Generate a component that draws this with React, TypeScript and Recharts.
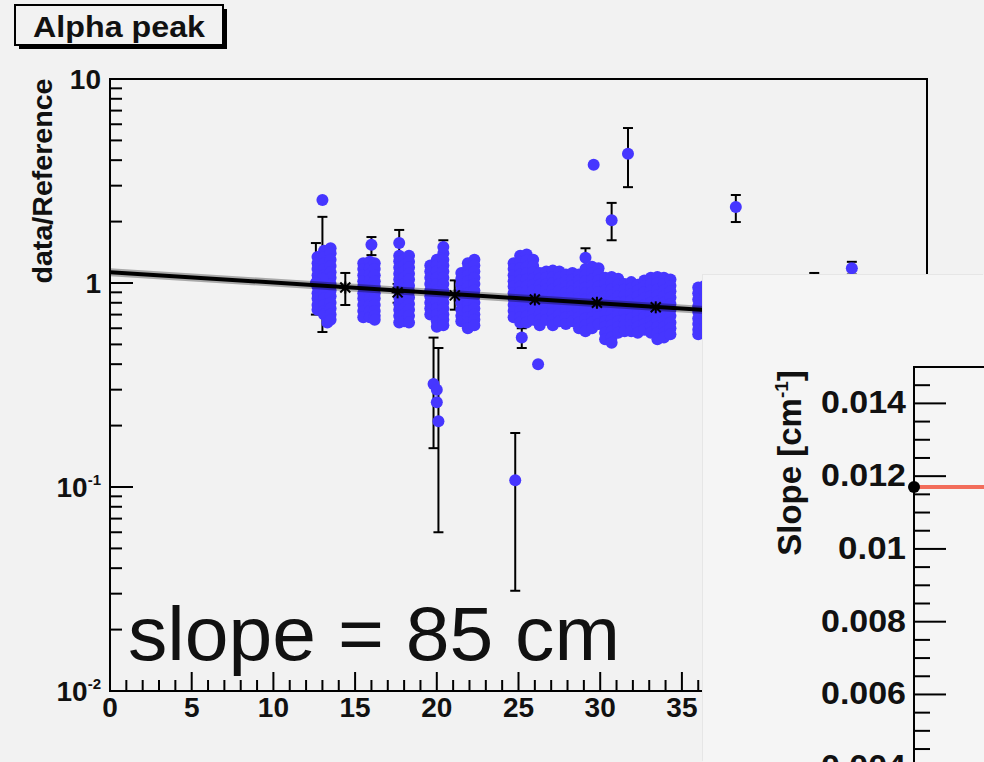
import React from "react";
import {
  ScatterChart,
  Scatter,
  XAxis,
  YAxis,
  ErrorBar,
  ReferenceArea,
  LineChart,
  Line,
} from "recharts";

// distance axis (cm)
const distTicks = [
  0, 1, 2, 3, 4, 5, 6, 7, 8, 9, 10, 11, 12, 13, 14, 15, 16, 17, 18, 19, 20, 21,
  22, 23, 24, 25, 26, 27, 28, 29, 30, 31, 32, 33, 34, 35, 36, 37, 38, 39, 40,
  41, 42, 43, 44, 45, 46, 47, 48, 49, 50,
];
// labels further right sit under the inset
const distLabels = [0, 5, 10, 15, 20, 25, 30, 35];

// log ratio axis
const ratioTicks = [
  0.01, 0.02, 0.03, 0.04, 0.05, 0.06, 0.07, 0.08, 0.09, 0.1, 0.2, 0.3, 0.4, 0.5,
  0.6, 0.7, 0.8, 0.9, 1, 2, 3, 4, 5, 6, 7, 8, 9, 10,
];
const ratioMajor = [0.01, 0.1, 1, 10];
const ratioMantissa = ["10", "10", "1", "10"];
const ratioExponent = ["-2", "-1", "", ""];

// blue measurements, one column of values per run position
const runColumns: [number, number[]][] = [
  [12.7, [1.34, 1.25, 1.17, 1.09, 1.02, 0.96, 0.89, 0.84, 0.78, 0.74]],
  [13.1, [1.44, 1.34, 1.25, 1.17, 1.09, 1.02, 0.96, 0.89, 0.84, 0.78, 0.73, 0.7]],
  [13.3, [0.64]],
  [13.5, [1.48, 1.4, 1.3, 1.21, 1.13, 1.06, 0.99, 0.92, 0.86, 0.8, 0.75, 0.7, 0.66]],
  [15.5, [1.25, 1.17, 1.09, 1.02, 0.96, 0.89, 0.84, 0.78, 0.73, 0.68]],
  [15.9, [1.27, 1.18, 1.1, 1.03, 0.96, 0.9, 0.84, 0.78, 0.73, 0.68]],
  [16.2, [1.25, 1.17, 1.09, 1.02, 0.96, 0.89, 0.84, 0.78, 0.73, 0.69, 0.66]],
  [17.7, [1.36, 1.28, 1.19, 1.11, 1.04, 0.97, 0.91, 0.85, 0.79, 0.74, 0.69, 0.64]],
  [18.0, [1.3, 1.22, 1.14, 1.06, 0.99, 0.92, 0.86, 0.8, 0.75, 0.7, 0.65]],
  [18.3, [1.36, 1.27, 1.19, 1.11, 1.04, 0.97, 0.91, 0.85, 0.79, 0.74, 0.69, 0.64]],
  [19.6, [1.22, 1.14, 1.06, 0.99, 0.92, 0.86, 0.8, 0.75, 0.7]],
  [20.0, [1.3, 1.22, 1.14, 1.06, 0.99, 0.92, 0.86, 0.8, 0.75, 0.7, 0.65, 0.61]],
  [20.4, [1.4, 1.3, 1.22, 1.14, 1.06, 0.99, 0.92, 0.86, 0.8, 0.75, 0.7, 0.66, 0.62]],
  [21.5, [1.12, 1.05, 0.98, 0.91, 0.85, 0.8, 0.74, 0.69, 0.65]],
  [21.9, [1.25, 1.17, 1.09, 1.02, 0.96, 0.89, 0.84, 0.78, 0.73, 0.68, 0.64, 0.6]],
  [22.3, [1.3, 1.22, 1.14, 1.06, 0.99, 0.92, 0.86, 0.8, 0.75, 0.7, 0.66, 0.62]],
  [24.7, [1.25, 1.17, 1.09, 1.02, 0.96, 0.89, 0.84, 0.78, 0.73, 0.68]],
  [25.1, [1.36, 1.27, 1.18, 1.1, 1.03, 0.96, 0.9, 0.84, 0.78, 0.73, 0.68, 0.64]],
  [25.5, [1.38, 1.29, 1.2, 1.12, 1.04, 0.97, 0.91, 0.85, 0.79, 0.74, 0.69, 0.64]],
  [25.9, [1.3, 1.21, 1.13, 1.05, 0.98, 0.92, 0.86, 0.8, 0.75, 0.7, 0.66]],
  [26.3, [1.12, 1.05, 0.98, 0.92, 0.86, 0.8, 0.75, 0.7, 0.66, 0.62]],
  [26.7, [1.14, 1.06, 0.99, 0.93, 0.87, 0.81, 0.76, 0.71, 0.66]],
  [27.1, [1.15, 1.07, 1.0, 0.93, 0.87, 0.81, 0.76, 0.71, 0.66, 0.62]],
  [27.5, [1.14, 1.06, 0.99, 0.92, 0.86, 0.8, 0.75, 0.7, 0.65]],
  [27.9, [1.1, 1.03, 0.96, 0.9, 0.84, 0.78, 0.73, 0.68, 0.63]],
  [28.3, [1.12, 1.04, 0.97, 0.91, 0.85, 0.79, 0.74, 0.69, 0.65]],
  [28.7, [1.1, 1.03, 0.96, 0.9, 0.84, 0.78, 0.73, 0.68, 0.64, 0.6]],
  [29.1, [1.17, 1.09, 1.02, 0.95, 0.89, 0.83, 0.77, 0.72, 0.67, 0.62, 0.58]],
  [29.5, [1.2, 1.12, 1.04, 0.97, 0.9, 0.84, 0.78, 0.73, 0.68, 0.64, 0.6]],
  [29.9, [1.18, 1.1, 1.03, 0.96, 0.9, 0.84, 0.78, 0.73, 0.68, 0.63]],
  [30.3, [1.06, 0.99, 0.92, 0.86, 0.8, 0.75, 0.7, 0.65, 0.61, 0.57, 0.53]],
  [30.7, [1.07, 1.0, 0.93, 0.87, 0.81, 0.76, 0.71, 0.66, 0.62, 0.58, 0.54, 0.51]],
  [31.1, [1.05, 0.98, 0.92, 0.86, 0.8, 0.75, 0.7, 0.65, 0.61, 0.57]],
  [31.5, [0.99, 0.93, 0.87, 0.81, 0.76, 0.71, 0.66, 0.62, 0.58]],
  [31.9, [1.01, 0.94, 0.88, 0.82, 0.77, 0.72, 0.67, 0.62, 0.58]],
  [32.3, [0.98, 0.92, 0.86, 0.8, 0.75, 0.7, 0.65, 0.61, 0.57]],
  [32.7, [1.03, 0.96, 0.9, 0.84, 0.78, 0.73, 0.68, 0.63, 0.59]],
  [33.1, [1.06, 0.99, 0.92, 0.86, 0.8, 0.75, 0.7, 0.65, 0.61, 0.57]],
  [33.5, [1.07, 1.0, 0.93, 0.87, 0.81, 0.76, 0.71, 0.66, 0.61, 0.57, 0.53]],
  [33.9, [1.06, 0.99, 0.92, 0.86, 0.8, 0.75, 0.7, 0.65, 0.61, 0.57, 0.54]],
  [34.3, [1.04, 0.97, 0.91, 0.85, 0.79, 0.74, 0.69, 0.64, 0.6, 0.56]],
  [36.0, [0.95, 0.89, 0.83, 0.77, 0.72, 0.67, 0.63, 0.59, 0.56]],
  [36.4, [0.97, 0.9, 0.84, 0.78, 0.73, 0.68, 0.64, 0.6, 0.56]],
];

// single blue points without visible bars
const loosePoints = [
  { x: 13.0, y: 2.55 },
  { x: 20.0, y: 0.3 },
  { x: 20.0, y: 0.26 },
  { x: 26.2, y: 0.4 },
  { x: 29.6, y: 3.8 },
];

// blue points whose error bars show
const barPoints = [
  { x: 13.0, y: 1.05, lo: 0.575, hi: 2.11 },
  { x: 12.6, y: 1.0, lo: 0.7, hi: 1.57 },
  { x: 16.0, y: 1.54, lo: 1.37, hi: 1.68 },
  { x: 17.7, y: 1.57, lo: 1.3, hi: 1.82 },
  { x: 20.4, y: 1.5, lo: 1.38, hi: 1.62 },
  { x: 19.8, y: 0.32, lo: 0.155, hi: 0.54 },
  { x: 20.1, y: 0.21, lo: 0.06, hi: 0.48 },
  { x: 24.8, y: 0.108, lo: 0.031, hi: 0.184 },
  { x: 25.2, y: 0.54, lo: 0.48, hi: 0.6 },
  { x: 29.1, y: 1.33, lo: 1.16, hi: 1.48 },
  { x: 30.7, y: 2.03, lo: 1.62, hi: 2.47 },
  { x: 31.7, y: 4.3, lo: 2.95, hi: 5.75 },
  { x: 38.3, y: 2.36, lo: 1.99, hi: 2.7 },
  { x: 43.1, y: 1.0, lo: 0.9, hi: 1.12 },
  { x: 45.4, y: 1.18, lo: 1.1, hi: 1.27 },
];

// group means
const meanDist = [14.4, 17.6, 21.1, 26.0, 29.8, 33.4];
const meanRatio = [0.95, 0.9, 0.87, 0.83, 0.8, 0.76];
const meanLo = [0.78, 0.8, 0.74, 0.71, 0.6, 0.67];
const meanHi = [1.12, 0.99, 1.03, 0.95, 1.03, 0.85];

// exponential fit, slope = 85 cm
const fitDist = [0, 50];
const fitRatio = [1.13, 0.628];

// inset: fitted slope
const slopeTicks = [
  0.002, 0.0025, 0.003, 0.0035, 0.004, 0.0045, 0.005, 0.0055, 0.006, 0.0065,
  0.007, 0.0075, 0.008, 0.0085, 0.009, 0.0095, 0.01, 0.0105, 0.011, 0.0115,
  0.012, 0.0125, 0.013, 0.0135, 0.014, 0.0145, 0.015,
];
const slopeMajor = [0.004, 0.006, 0.008, 0.01, 0.012, 0.014];
const slopeLabels = ["0.004", "0.006", "0.008", "0.01", "0.012", "0.014"];
const slopeRun = [0, 1];
const slopeValue = [0.0117, 0.0117];

const BLUE = "#4636ff";
const BG = "#f2f2f2";

const clusterData = runColumns.flatMap(([x, vals]) => vals.map((y) => ({ x, y })));
const barData = barPoints.map((p) => ({ x: p.x, y: p.y, err: [p.y - p.lo, p.hi - p.y] }));
const meanData = meanDist.map((x, i) => ({
  x,
  y: meanRatio[i],
  err: [meanRatio[i] - meanLo[i], meanHi[i] - meanRatio[i]],
}));
const fitData = fitDist.map((x, i) => ({ x, y: fitRatio[i] }));
const slopeData = slopeRun.map((run, i) => ({ run, slope: slopeValue[i] }));

const BlueDot = (p: any) => <circle cx={p.cx} cy={p.cy} r={6} fill={BLUE} />;
const NoDot = () => <g />;
const MeanMark = (p: any) => {
  const { cx, cy } = p;
  return (
    <g stroke="#000" strokeWidth={2}>
      <line x1={cx - 6} x2={cx + 6} y1={cy} y2={cy} />
      <line x1={cx} x2={cx} y1={cy - 6} y2={cy + 6} />
      <line x1={cx - 5} x2={cx + 5} y1={cy - 5} y2={cy + 5} />
      <line x1={cx - 5} x2={cx + 5} y1={cy + 5} y2={cy - 5} />
    </g>
  );
};

const labelFont = "'Liberation Sans', Arial, Helvetica, sans-serif";

const DistTick = (props: any) => {
  const { x, y, payload } = props;
  const major = payload.value % 5 === 0;
  const labelled = distLabels.includes(payload.value);
  return (
    <g>
      <line x1={x} x2={x} y1={y} y2={y - (major ? 19 : 11)} stroke="#000" strokeWidth={2} />
      {labelled && (
        <text x={x} y={y + 26} textAnchor="middle" fontSize={28} fontWeight="bold" fontFamily={labelFont} fill="#111">
          {payload.value}
        </text>
      )}
    </g>
  );
};

const RatioTick = (props: any) => {
  const { x, y, payload } = props;
  const i = ratioMajor.indexOf(payload.value);
  return (
    <g>
      <line x1={x} x2={x + (i >= 0 ? 23 : 12)} y1={y} y2={y} stroke="#000" strokeWidth={2} />
      {i >= 0 && (
        <text x={x - 9} y={y + 10} textAnchor="end" fontSize={28} fontWeight="bold" fontFamily={labelFont} fill="#111">
          {ratioMantissa[i]}
          {ratioExponent[i] && (
            <tspan dy={-12} fontSize={15}>
              {ratioExponent[i]}
            </tspan>
          )}
        </text>
      )}
    </g>
  );
};

const SlopeTick = (props: any) => {
  const { x, y, payload } = props;
  const i = slopeMajor.indexOf(payload.value);
  return (
    <g>
      <line x1={x} x2={x + (i >= 0 ? 32 : 16)} y1={y} y2={y} stroke="#000" strokeWidth={2} />
      {i >= 0 && (
        <text
          x={x - 8}
          y={y + 10}
          textAnchor="end"
          fontSize={31}
          fontWeight="bold"
          fontFamily={labelFont}
          fill="#111"
          textLength={slopeLabels[i].length * 17}
          lengthAdjust="spacingAndGlyphs"
        >
          {slopeLabels[i]}
        </text>
      )}
    </g>
  );
};

const SlopeDot = (p: any) => <circle cx={p.cx} cy={p.cy} r={6} fill="#000" />;

export default function App() {
  return (
    <div
      style={{
        position: "absolute",
        left: 0,
        top: 0,
        width: 984,
        height: 762,
        overflow: "hidden",
        background: BG,
        fontFamily: labelFont,
      }}
    >
      <ScatterChart width={984} height={762} margin={{ top: 79, right: 57, bottom: 21, left: 0 }}>
        <XAxis
          type="number"
          dataKey="x"
          domain={[0, 50]}
          ticks={distTicks}
          interval={0}
          allowDataOverflow
          height={50}
          tickSize={0}
          tickMargin={0}
          tickLine={false}
          tick={<DistTick />}
          axisLine={{ stroke: "#000", strokeWidth: 2 }}
        />
        <YAxis
          type="number"
          dataKey="y"
          scale="log"
          domain={[0.01, 10]}
          ticks={ratioTicks}
          interval={0}
          allowDataOverflow
          width={110}
          tickSize={0}
          tickMargin={0}
          tickLine={false}
          tick={<RatioTick />}
          axisLine={{ stroke: "#000", strokeWidth: 2 }}
        />
        <ReferenceArea x1={0} x2={50} y1={0.01} y2={10} fill="none" stroke="#000" strokeWidth={2} />
        <Scatter data={clusterData} shape={<BlueDot />} isAnimationActive={false} />
        <Scatter data={barData} shape={<BlueDot />} isAnimationActive={false}>
          <ErrorBar dataKey="err" direction="y" width={5} stroke="#000" strokeWidth={2} />
        </Scatter>
        <Scatter data={loosePoints} shape={<BlueDot />} isAnimationActive={false} />
        <Scatter
          data={fitData}
          shape={<NoDot />}
          line={{ stroke: "rgba(0,0,0,0.3)", strokeWidth: 8 }}
          isAnimationActive={false}
        />
        <Scatter
          data={fitData}
          shape={<NoDot />}
          line={{ stroke: "#000", strokeWidth: 4 }}
          isAnimationActive={false}
        />
        <Scatter data={meanData} shape={<MeanMark />} isAnimationActive={false}>
          <ErrorBar dataKey="err" direction="y" width={5} stroke="#000" strokeWidth={2} />
        </Scatter>
      </ScatterChart>

      <svg
        width={984}
        height={762}
        style={{ position: "absolute", left: 0, top: 0, pointerEvents: "none" }}
      >
        <rect x={19} y={9} width={208} height={40} fill="#000" />
        <rect x={15} y={5} width={208} height={40} fill={BG} stroke="#000" strokeWidth={2} />
        <text
          x={33}
          y={37}
          fontSize={29}
          fontWeight="bold"
          fill="#111"
          fontFamily={labelFont}
          textLength={172}
          lengthAdjust="spacingAndGlyphs"
        >
          Alpha peak
        </text>
        <text
          transform="translate(52,181) rotate(-90)"
          textAnchor="middle"
          fontSize={28}
          fontWeight="bold"
          fill="#111"
          fontFamily={labelFont}
          textLength={205}
          lengthAdjust="spacingAndGlyphs"
        >
          data/Reference
        </text>
        <text
          x={128}
          y={660}
          fontSize={76}
          fill="#111"
          fontFamily={labelFont}
          textLength={492}
          lengthAdjust="spacingAndGlyphs"
        >
          slope = 85 cm
        </text>
      </svg>

      <div
        style={{
          position: "absolute",
          left: 703,
          top: 275,
          width: 281,
          height: 487,
          overflow: "hidden",
          background: "#f5f5f5",
          boxShadow: "-1px -1px 0 #e6e6e6",
        }}
      >
        <LineChart width={420} height={600} data={slopeData} margin={{ top: 92, right: 0, bottom: 35, left: 0 }}>
          <XAxis type="number" dataKey="run" domain={[0, 1]} hide />
          <YAxis
            type="number"
            domain={[0.002, 0.015]}
            ticks={slopeTicks}
            interval={0}
            allowDataOverflow
            width={211}
            tickSize={0}
            tickMargin={0}
            tickLine={false}
            tick={<SlopeTick />}
            axisLine={{ stroke: "#000", strokeWidth: 2 }}
          />
          <ReferenceArea x1={0} x2={1} y1={0.002} y2={0.015} fill="none" stroke="#000" strokeWidth={2} />
          <Line
            dataKey="slope"
            stroke="#f26d5b"
            strokeWidth={4}
            dot={<SlopeDot />}
            isAnimationActive={false}
          />
        </LineChart>
        <svg
          width={281}
          height={487}
          style={{ position: "absolute", left: 0, top: 0, pointerEvents: "none" }}
        >
          <text
            transform="translate(98,188) rotate(-90)"
            textAnchor="middle"
            fontSize={33}
            fontWeight="bold"
            fill="#111"
            fontFamily={labelFont}
          >
            Slope [cm
            <tspan dy={-13} fontSize={19}>
              -1
            </tspan>
            <tspan dy={13}>]</tspan>
          </text>
        </svg>
      </div>
    </div>
  );
}
